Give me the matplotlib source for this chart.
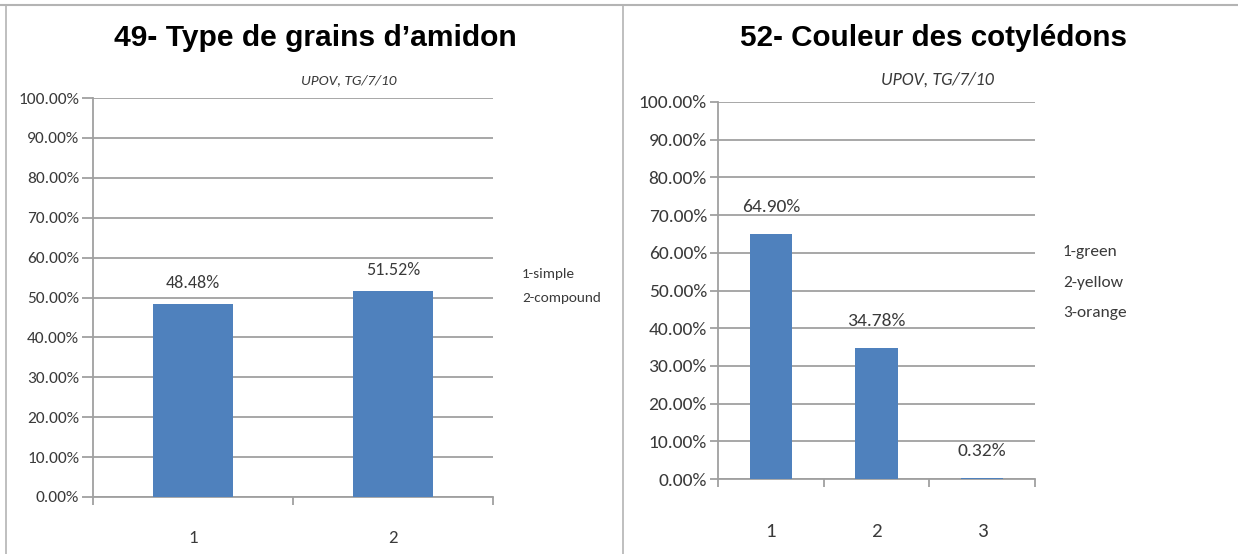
import numpy as np
import matplotlib.pyplot as plt
from matplotlib.lines import Line2D
from matplotlib.ticker import PercentFormatter

plt.rcParams['font.family'] = ['Carlito', 'DejaVu Sans']

# ---- data
left_title = '49- Type de grains d\u2019amidon'
left_cats = ['1', '2']
left_vals = [48.48, 51.52]
left_legend = ['1-simple', '2-compound']

right_title = '52- Couleur des cotylédons'
right_cats = ['1', '2', '3']
right_vals = [64.90, 34.78, 0.32]
right_legend = ['1-green', '2-yellow', '3-orange']

source = 'UPOV, TG/7/10'

W, H = 1238, 554
bar_col = '#4F81BD'
grid_col = '#a0a0a0'
txt_col = '#3a3a3a'

fig = plt.figure(figsize=(W / 100, H / 100), dpi=100)


def px_axes(x0, y0, x1, y1):
    # pixel box (top-left origin) -> figure axes
    return fig.add_axes([x0 / W, (H - y1) / H, (x1 - x0) / W, (y1 - y0) / H])


def draw_panel(ax, cats, vals, tick_fs, lab_fs, lab_off, xlab_pad, ytick_len):
    x = np.arange(len(cats))
    ax.bar(x, vals, width=0.4, color=bar_col, zorder=3)
    ax.set_xlim(-0.5, len(cats) - 0.5)
    ax.set_ylim(0, 100)
    ax.set_yticks(np.arange(0, 101, 10))
    ax.yaxis.set_major_formatter(PercentFormatter(decimals=2))
    ax.grid(axis='y', color=grid_col, lw=1.3, zorder=0)
    for s in ['top', 'right']:
        ax.spines[s].set_visible(False)
    for s in ['left', 'bottom']:
        ax.spines[s].set_color(grid_col)
        ax.spines[s].set_linewidth(1.3)
    ax.tick_params(axis='y', length=ytick_len, width=1.3, color=grid_col,
                   labelsize=tick_fs, labelcolor=txt_col, pad=2)
    ax.set_xticks(x)
    ax.set_xticklabels(cats)
    ax.set_xticks(np.arange(len(cats) + 1) - 0.5, minor=True)
    ax.tick_params(axis='x', which='major', length=0, labelsize=tick_fs + 1,
                   labelcolor=txt_col, pad=xlab_pad)
    ax.tick_params(axis='x', which='minor', length=6, width=1.3, color=grid_col)
    for xi, v in zip(x, vals):
        ax.annotate('%.2f%%' % v, (xi, v), xytext=(0, lab_off),
                    textcoords='offset pixels', ha='center', va='center',
                    fontsize=lab_fs, color=txt_col)


axL = px_axes(93, 98, 493, 497)
draw_panel(axL, left_cats, left_vals, 12.5, 13, 21, 24, 8)
axR = px_axes(718, 102, 1035, 479)
draw_panel(axR, right_cats, right_vals, 14, 14, 27, 32, 6)

# titles
fig.text(315 / W, 1 - 38 / H, left_title, ha='center', va='center',
         fontsize=21.6, fontweight='bold', family=['Liberation Sans', 'DejaVu Sans'])
fig.text(933 / W, 1 - 38 / H, right_title, ha='center', va='center',
         fontsize=21.3, fontweight='bold', family=['Liberation Sans', 'DejaVu Sans'])
fig.text(349 / W, 1 - 80 / H, source, ha='center', va='center',
         fontsize=11, style='italic', color=txt_col)
fig.text(937 / W, 1 - 80 / H, source, ha='center', va='center',
         fontsize=13, style='italic', color=txt_col)

# legends as plain text
for i, t in enumerate(left_legend):
    fig.text(522 / W, 1 - (274 + i * 24) / H, t, ha='left', va='center',
             fontsize=11, color=txt_col)
for i, t in enumerate(right_legend):
    fig.text(1063 / W, 1 - (252 + i * 30.5) / H, t, ha='left', va='center',
             fontsize=12.5, color=txt_col)

# panel borders
fig.add_artist(Line2D([0, 1], [1 - 5 / H, 1 - 5 / H], color='#b4b4b4', lw=1.5))
fig.add_artist(Line2D([6 / W, 6 / W], [0, 1 - 5 / H], color='#b4b4b4', lw=1.2))
fig.add_artist(Line2D([623 / W, 623 / W], [0, 1 - 5 / H], color='#b4b4b4', lw=1.2))

plt.savefig('out.png', dpi=100)
